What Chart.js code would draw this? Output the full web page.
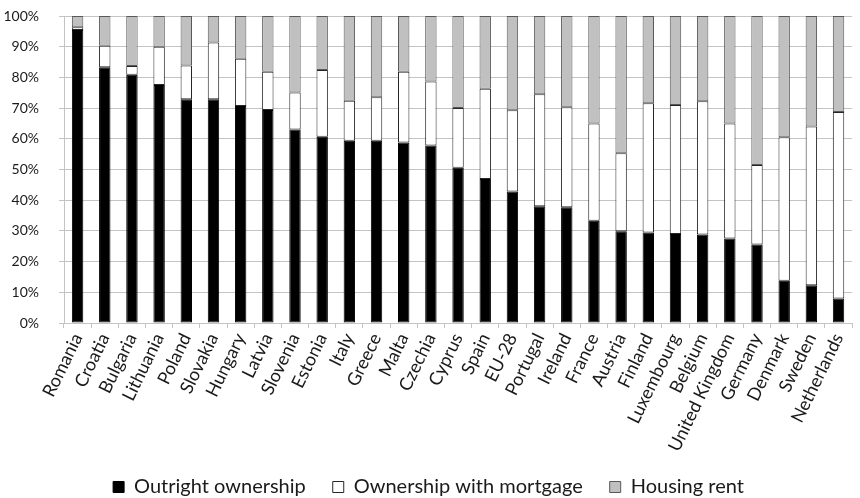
<!DOCTYPE html>
<html>
<head>
<meta charset="utf-8">
<script src="https://cdn.jsdelivr.net/npm/chart.js@4/dist/chart.umd.min.js"></script>
<style>
    html, body { margin: 0; padding: 0; background: #fff; }
    #wrap { width: 860px; height: 498px; position: relative; }
</style>
</head>
<body>
<div id="wrap"><canvas id="tenureChart"></canvas></div>
<script>
// Data (share of population, %)
const countries = ['Romania', 'Croatia', 'Bulgaria', 'Lithuania', 'Poland', 'Slovakia', 'Hungary',
    'Latvia', 'Slovenia', 'Estonia', 'Italy', 'Greece', 'Malta', 'Czechia', 'Cyprus', 'Spain',
    'EU-28', 'Portugal', 'Ireland', 'France', 'Austria', 'Finland', 'Luxembourg', 'Belgium',
    'United Kingdom', 'Germany', 'Denmark', 'Sweden', 'Netherlands'];

const outright = [95.4, 83.3, 80.9, 77.5, 72.9, 72.9, 70.7, 69.4, 63.0, 60.7, 59.4, 59.4, 58.8, 57.8,
    50.6, 46.9, 42.8, 38.0, 37.7, 33.3, 29.9, 29.5, 29.0, 28.8, 27.5, 25.6, 13.8, 12.3, 8.0];

const mortgage = [0.9, 7.0, 2.8, 12.5, 11.0, 18.5, 15.4, 12.4, 12.1, 21.7, 13.0, 14.1, 23.0, 20.9,
    19.4, 29.4, 26.5, 36.5, 32.6, 31.7, 25.4, 42.1, 42.0, 43.4, 37.5, 25.9, 46.7, 51.7, 60.7];

const rent = [3.7, 9.7, 16.3, 10.0, 16.1, 8.6, 13.9, 18.2, 24.9, 17.6, 27.6, 26.5, 18.2, 21.3,
    30.0, 23.7, 30.7, 25.5, 29.7, 35.0, 44.7, 28.4, 29.0, 27.8, 35.0, 48.5, 39.5, 36.0, 31.3];

const yTicks = [0, 10, 20, 30, 40, 50, 60, 70, 80, 90, 100];

const fontFamily = 'Lato, "Open Sans", sans-serif';
const textColor = '#1a1a1a';
const gridColor = '#c4c4c4';

function barSet(label, data, fill, edge) {
    return {
        label: label,
        data: data,
        backgroundColor: fill,
        borderColor: edge,
        borderWidth: 1,
        borderSkipped: false,
        barPercentage: 0.42,
        categoryPercentage: 1.0
    };
}

document.addEventListener('DOMContentLoaded', () => {
    const ctx = document.getElementById('tenureChart').getContext('2d');
    new Chart(ctx, {
        type: 'bar',
        data: {
            labels: countries,
            datasets: [
                barSet('Outright ownership', outright, '#000000', '#000000'),
                barSet('Ownership with mortgage', mortgage, '#ffffff', '#262626'),
                barSet('Housing rent', rent, '#c0c0c0', '#595959')
            ]
        },
        options: {
            responsive: true,
            maintainAspectRatio: false,
            animation: false,
            layout: { padding: { top: 16, right: 3, left: 0, bottom: -9 } },
            plugins: {
                tooltip: { enabled: false },
                legend: {
                    position: 'bottom',
                    labels: {
                        color: textColor,
                        font: { family: fontFamily, size: 20 },
                        boxWidth: 11,
                        boxHeight: 11,
                        padding: 27
                    }
                }
            },
            scales: {
                x: {
                    stacked: true,
                    offset: true,
                    grid: {
                        offset: true,
                        drawOnChartArea: false,
                        drawTicks: true,
                        tickLength: 5,
                        color: gridColor
                    },
                    border: { color: gridColor },
                    ticks: {
                        color: textColor,
                        font: { family: fontFamily, size: 18 },
                        minRotation: 64,
                        maxRotation: 64,
                        autoSkip: false,
                        padding: 2
                    },
                    afterFit: (scale) => {
                        scale.height = 127;
                        scale.paddingTop = 0;
                    }
                },
                y: {
                    stacked: true,
                    min: 0,
                    max: 100,
                    afterBuildTicks: (scale) => {
                        scale.ticks = yTicks.map(v => ({ value: v }));
                    },
                    grid: {
                        color: gridColor,
                        tickLength: 5
                    },
                    border: { color: gridColor },
                    ticks: {
                        color: textColor,
                        font: { family: fontFamily, size: 14 },
                        padding: 20,
                        callback: (v) => v + '%'
                    },
                    afterFit: (scale) => {
                        scale.width = 64;
                        scale.paddingTop = 0;
                        scale.paddingBottom = 0;
                    }
                }
            }
        }
    });
});
</script>
</body>
</html>
